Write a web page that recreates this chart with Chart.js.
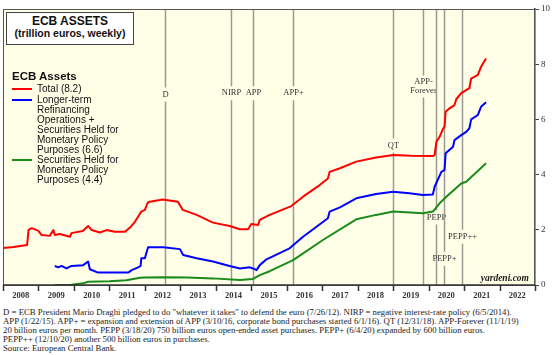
<!DOCTYPE html>
<html>
<head>
<meta charset="utf-8">
<script src="https://cdn.jsdelivr.net/npm/chart.js@4.4.1/dist/chart.umd.min.js"></script>
<style>
  html,body{margin:0;padding:0;background:#fff;}
  #wrap{position:relative;width:554px;height:355px;overflow:hidden;}
  #c{position:absolute;left:0;top:0;}
  #titlebox{position:absolute;left:6px;top:12px;width:126px;height:29px;border:1.6px solid #444;background:#fff;
    font-family:"Liberation Sans",Arial,sans-serif;font-weight:bold;color:#111;text-align:center;line-height:11px;padding-top:2px;}
  #titlebox .t1{font-size:12px;line-height:13px;}
  #titlebox .t2{font-size:10.5px;}
  #legend{position:absolute;left:12px;top:70px;font-family:"Liberation Sans",Arial,sans-serif;color:#111;}
  #legend .hdr{font-weight:bold;font-size:11.5px;line-height:13px;}
  #legend .item{position:relative;padding-left:25px;font-size:10px;line-height:10px;}
  #legend .sw{position:absolute;left:0;top:4px;width:20px;height:2px;}
  #footer{position:absolute;left:3px;top:308px;font-family:"Liberation Serif","Times New Roman",serif;font-size:8.75px;line-height:9px;color:#222;white-space:nowrap;}
</style>
</head>
<body>
<div id="wrap">
<canvas id="c" width="554" height="305"></canvas>
<div id="titlebox"><div class="t1">ECB ASSETS</div><div class="t2">(trillion euros, weekly)</div></div>
<div id="legend">
  <div class="hdr">ECB Assets</div>
  <div class="item" style="margin-top:1px"><span class="sw" style="background:#ff0000"></span>Total (8.2)</div>
  <div class="item" style="margin-top:1px"><span class="sw" style="background:#0000ff"></span>Longer-term<br>Refinancing<br>Operations +<br>Securities Held for<br>Monetary Policy<br>Purposes (6.6)</div>
  <div class="item" style="margin-top:0px"><span class="sw" style="background:#1a8a1a"></span>Securities Held for<br>Monetary Policy<br>Purposes (4.4)</div>
</div>
<div id="footer">D = ECB President Mario Draghi pledged to do "whatever it takes" to defend the euro (7/26/12). NIRP = negative interest-rate policy (6/5/2014).<br>APP (1/22/15). APP+ = expansion and extension of APP (3/10/16, corporate bond purchases started 6/1/16). QT (12/31/18). APP-Forever (11/1/19)<br>20 billion euros per month. PEPP (3/18/20) 750 billion euros open-ended asset purchases. PEPP+ (6/4/20) expanded by 600 billion euros.<br>PEPP++ (12/10/20) another 500 billion euros in purchases.<br>Source: European Central Bank.</div>
</div>
<script>
// ---- data (years as decimal, values in trillion euros) ----
const years = [2008,2009,2010,2011,2012,2013,2014,2015,2016,2017,2018,2019,2020,2021,2022];
const yTicks = [0,2,4,6,8,10];

const totalDates = [2008.0,2008.3,2008.68,2008.72,2008.81,2008.99,2009.09,2009.32,2009.42,2009.46,2009.6,2009.89,2009.93,2010.25,2010.4,2010.5,2010.73,2010.92,2011.15,2011.44,2011.58,2011.72,2011.9,2012.0,2012.08,2012.14,2012.42,2012.5,2012.93,2013.07,2013.46,2013.92,2014.39,2014.68,2014.91,2015.0,2015.19,2015.24,2015.52,2016.13,2016.46,2016.93,2017.16,2017.21,2017.5,2017.96,2018.52,2019.0,2019.5,2020.12,2020.17,2020.22,2020.31,2020.4,2020.45,2020.48,2020.59,2020.73,2020.78,2020.92,2021.15,2021.2,2021.39,2021.48,2021.62];
const totalValues = [1.34,1.38,1.45,2.0,2.06,1.97,1.81,1.78,1.99,1.81,1.85,1.75,1.88,1.96,2.14,1.99,1.9,1.99,1.93,1.93,2.08,2.29,2.66,2.72,2.98,3.02,3.08,3.1,3.02,2.72,2.54,2.26,2.14,2.02,2.02,2.21,2.17,2.36,2.54,2.86,3.2,3.62,3.86,4.1,4.23,4.47,4.62,4.71,4.68,4.67,4.71,5.19,5.37,5.64,5.74,6.28,6.4,6.52,6.73,6.95,7.13,7.48,7.61,7.91,8.21];

const ltroDates = [2009.46,2009.56,2009.65,2009.79,2009.93,2010.26,2010.4,2010.45,2010.68,2011.01,2011.53,2011.63,2011.81,2011.88,2011.9,2012.0,2012.09,2012.52,2012.99,2013.08,2013.46,2013.92,2014.39,2014.68,2014.96,2015.05,2015.15,2015.24,2015.43,2016.08,2016.46,2016.84,2017.16,2017.21,2017.5,2017.96,2018.52,2019.0,2019.46,2019.84,2020.12,2020.17,2020.36,2020.45,2020.48,2020.69,2020.73,2020.92,2021.06,2021.15,2021.2,2021.39,2021.48,2021.62];
const ltroValues = [0.69,0.64,0.69,0.6,0.69,0.72,0.85,0.57,0.45,0.45,0.45,0.54,0.64,0.69,0.97,0.97,1.37,1.37,1.3,1.09,0.97,0.85,0.69,0.6,0.64,0.6,0.54,0.72,0.93,1.33,1.75,2.11,2.42,2.66,2.81,3.14,3.3,3.38,3.32,3.26,3.28,3.56,4.1,4.17,4.77,5.01,5.25,5.43,5.55,5.68,6.0,6.16,6.46,6.62];

const secDates = [2009.46,2009.93,2010.26,2010.4,2011.0,2011.48,2011.67,2011.86,2012.0,2012.5,2013.2,2013.92,2014.68,2015.05,2015.24,2015.52,2016.18,2017.02,2017.96,2018.52,2019.0,2019.84,2020.12,2020.31,2020.5,2020.92,2021.06,2021.62];
const secValues = [0.0,0.01,0.06,0.12,0.14,0.17,0.22,0.26,0.27,0.28,0.27,0.24,0.18,0.22,0.36,0.5,0.9,1.63,2.38,2.54,2.66,2.6,2.66,2.96,3.2,3.68,3.74,4.41];

// event markers
const eventNames = ["D","NIRP","APP","APP+","QT","APP-Forever","PEPP","PEPP+","PEPP++"];
const eventDates = [2012.57,2014.43,2015.06,2016.19,2018.99,2019.83,2020.21,2020.43,2020.94];
const eventLabelValues = [6.9,6.95,6.95,6.95,5.05,7.05,2.45,0.95,1.75];

// ---- build ----
const pts = (xs, ys) => xs.map((x,i)=>({x:x,y:ys[i]}));

const framePlugin = {
  id:'frame',
  beforeDatasetsDraw(chart){
    const {ctx, chartArea:a, scales:{x,y}} = chart;
    ctx.save();
    ctx.fillStyle = '#ffffe8';
    ctx.fillRect(a.left, a.top, a.right-a.left, a.bottom-a.top);
    ctx.font = '8.5px "Liberation Serif", "Times New Roman", serif';
    ctx.textAlign = 'center';
    ctx.textBaseline = 'middle';
    eventDates.forEach((d,i)=>{
      const px = Math.round(x.getPixelForValue(d))+0.5;
      const ly = y.getPixelForValue(eventLabelValues[i]);
      const twoLine = eventNames[i]==='APP-Forever';
      const gTop = twoLine ? ly-15 : ly-7;
      const gBot = ly+7;
      ctx.strokeStyle = '#9a9a92';
      ctx.lineWidth = 1.5;
      ctx.beginPath();
      ctx.moveTo(px, a.top); ctx.lineTo(px, gTop);
      ctx.moveTo(px, gBot); ctx.lineTo(px, a.bottom);
      ctx.stroke();
      ctx.fillStyle = '#333';
      if (twoLine){
        ctx.fillText('APP-', px, ly-9);
        ctx.fillText('Forever', px, ly);
      } else {
        ctx.fillText(eventNames[i], px, ly);
      }
    });
    ctx.restore();
  },
  afterDatasetsDraw(chart){
    const {ctx, chartArea:a, scales:{x}} = chart;
    ctx.save();
    ctx.strokeStyle = '#555';
    ctx.lineWidth = 1;
    ctx.strokeRect(a.left+0.5, a.top+0.5, a.right-a.left-1, a.bottom-a.top);
    ctx.strokeStyle = '#333';
    ctx.lineWidth = 1.5;
    ctx.beginPath();
    ctx.moveTo(a.left, a.bottom); ctx.lineTo(a.right, a.bottom);
    years.concat([2023]).forEach(yr=>{
      const px = Math.round(x.getPixelForValue(yr))+0.5;
      ctx.moveTo(px, a.bottom); ctx.lineTo(px, a.bottom+6);
    });
    ctx.stroke();
    ctx.font = 'italic bold 9.5px "Liberation Serif", "Times New Roman", serif';
    ctx.fillStyle = '#222';
    ctx.textAlign = 'right';
    ctx.textBaseline = 'alphabetic';
    ctx.fillText('yardeni.com', a.right-6, a.bottom-4);
    ctx.restore();
  }
};

new Chart(document.getElementById('c'), {
  type:'line',
  data:{
    datasets:[
      {label:'Total', data:pts(totalDates,totalValues), borderColor:'#ff0000', borderWidth:2},
      {label:'LTRO + Securities', data:pts(ltroDates,ltroValues), borderColor:'#0000ff', borderWidth:2},
      {label:'Securities', data:pts(secDates,secValues), borderColor:'#1a8a1a', borderWidth:2}
    ]
  },
  options:{
    responsive:false,
    animation:false,
    devicePixelRatio:1,
    elements:{point:{radius:0}, line:{tension:0, borderJoinStyle:'round'}},
    layout:{padding:{left:3, top:9, right:0, bottom:0}},
    plugins:{legend:{display:false}, tooltip:{enabled:false}},
    scales:{
      x:{
        type:'linear', position:'bottom', min:2008, max:2023,
        grid:{display:false, drawTicks:false}, border:{display:false},
        afterBuildTicks(s){ s.ticks = years.map(v=>({value:v+0.5})); },
        afterFit(s){ s.height = 20; },
        ticks:{autoSkip:false, maxRotation:0, padding:6, color:'#333',
          font:{family:'"Liberation Serif", "Times New Roman", serif', size:8.5, weight:'bold'},
          callback:(v)=>String(Math.floor(v))}
      },
      y:{
        type:'linear', position:'right', min:0, max:10,
        afterBuildTicks(s){ s.ticks = yTicks.map(v=>({value:v})); },
        afterFit(s){ s.width = 19; },
        grid:{display:true, drawOnChartArea:false, tickLength:4, color:'#444', lineWidth:1},
        border:{display:true, color:'#333', width:1.5},
        ticks:{padding:2, color:'#333',
          font:{family:'"Liberation Serif", "Times New Roman", serif', size:9}}
      }
    }
  },
  plugins:[framePlugin]
});
</script>
</body>
</html>
